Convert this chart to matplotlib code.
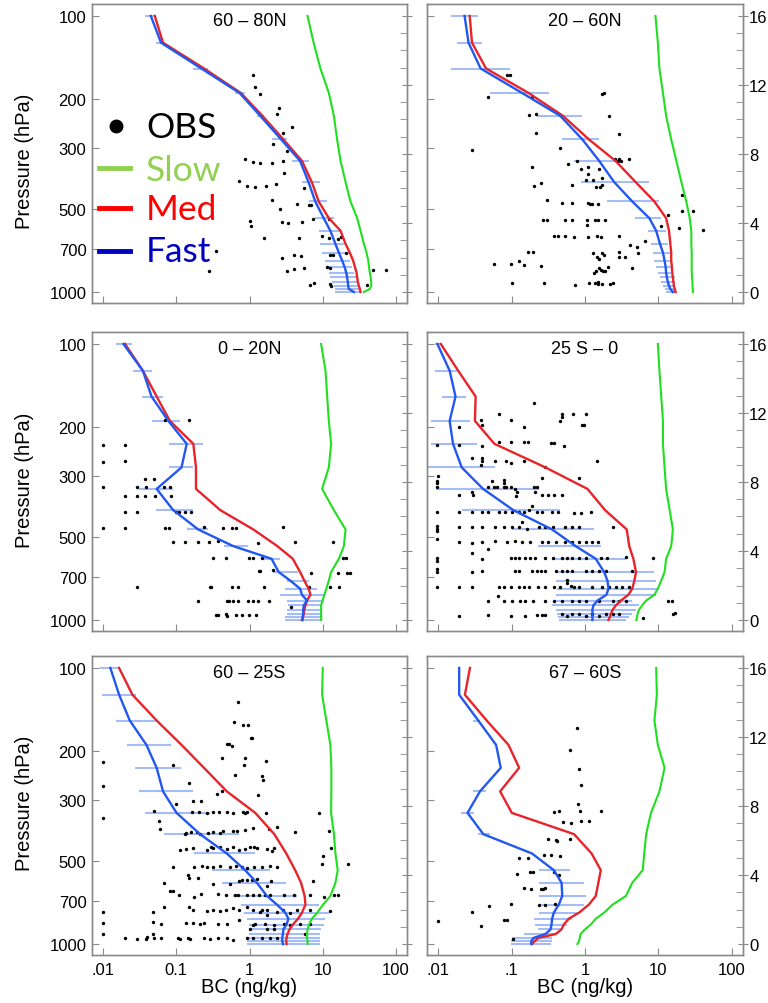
import numpy as np
import matplotlib
matplotlib.use('Agg')
import matplotlib.pyplot as plt
from matplotlib.lines import Line2D
from matplotlib.ticker import FixedLocator, NullLocator, NullFormatter, MultipleLocator

plt.rcParams['font.family'] = ['Liberation Sans', 'DejaVu Sans']

# model levels (hPa), top to bottom
lev_p = [100, 125, 155, 190, 230, 280, 335, 400, 470, 540, 600, 670, 720, 770, 810, 850, 885, 920, 950, 975, 1000]

# ---- 60 - 80N
fast_n6080 = [0.045, 0.062, 0.22, 0.73, 1.4, 2.7, 4.9, 6.4, 7.9, 10.3, 12.7, 14.9, 16.6, 18.4, 19.8, 20.9, 21.5, 22, 22.2, 22.7, 26.6]
lo_n6080 = [0.037, 0.053, 0.17, 0.64, 1.26, 2.0, 3.8, 5.2, 6.4, 7.9, 8.8, 9.3, 9.8, 10.9, 11.5, 12.1, 12.7, 13.4, 14.2, 14.9, 14.9]
hi_n6080 = [0.051, 0.066, 0.27, 0.87, 1.56, 3.2, 6.4, 9.3, 11.5, 14.2, 17.5, 19.4, 22.7, 23.9, 25.2, 26.6, 28, 29.5, 31, 31, 32.8]
med_n6080 = [0.051, 0.066, 0.24, 0.76, 1.5, 2.9, 5.2, 7.1, 8.8, 12.1, 17.5, 20.5, 23.4, 26, 27.4, 28.9, 29.5, 30.1, 31.1, 32.1, 32.8]
slow_n6080 = [6.2, 7.5, 9.3, 12.1, 14.2, 15.7, 17.5, 20.5, 23.9, 29.5, 32.8, 36.5, 39.6, 41.8, 42.7, 44, 45, 45.9, 45.9, 44, 36.5]
obs_n6080 = [(163, 1.1), (181, 1.2), (192, 1.4), (215, 2.5), (226, 2.4), (252, 3.8), (265, 2.9), (290, 2.1),
             (309, 3.2), (331, 0.87), (338, 1.1), (340, 1.4), (340, 2.0), (335, 2.9), (370, 3.0), (396, 0.71),
             (414, 0.92), (418, 1.2), (414, 1.7), (407, 2.3), (420, 5.6), (466, 2.0), (501, 2.6), (481, 4.4),
             (482, 6.4), (484, 6.9), (552, 1.0), (578, 1.05), (559, 2.8), (564, 3.4), (556, 5.2), (545, 7.4),
             (545, 12), (637, 1.6), (638, 4.8), (629, 9.8), (637, 12), (640, 16), (634, 18), (712, 0.35),
             (839, 0.28), (751, 2.8), (735, 4.1), (743, 5.0), (733, 12.5), (733, 14), (722, 21), (837, 3.2),
             (827, 4.0), (816, 5.6), (814, 11.5), (816, 12.7), (830, 49), (830, 72), (940, 6.6), (925, 7.7),
             (932, 12.5), (951, 13), (947, 40)]

# ---- 20 - 60N
fast_n2060 = [0.023, 0.026, 0.038, 0.139, 0.46, 0.92, 1.56, 2.5, 4.4, 7.5, 9.3, 10.5, 11.5, 12.1, 12.5, 12.7, 13, 13.4, 13.9, 14.5, 15.7]
lo_n2060 = [0.015, 0.018, 0.015, 0.051, 0.22, 0.49, 0.71, 0.87, 2.0, 4.8, 7.1, 7.9, 8.4, 8.6, 9.3, 9.8, 10.4, 10.9, 11.5, 12.1, 12.7]
hi_n2060 = [0.035, 0.040, 0.096, 0.32, 0.90, 1.56, 3.2, 7.5, 10.1, 10.9, 12.7, 13.4, 14.2, 14.9, 15.7, 16, 16.6, 16.6, 16.8, 17.1, 17.5]
med_n2060 = [0.027, 0.029, 0.045, 0.17, 0.50, 1.13, 2.6, 4.9, 8.8, 12.7, 13.9, 14.5, 14.9, 14.9, 15.2, 15.4, 15.7, 16.0, 16.2, 16.6, 17.1]
slow_n2060 = [9.1, 9.8, 10.3, 11.5, 12.7, 14.9, 17.5, 20.5, 23.9, 26.6, 28, 28, 28.3, 28.3, 28.3, 28.3, 28.6, 29, 29, 29.3, 29.5]
obs_n2060 = [(163, 0.086), (163, 0.096), (196, 0.048), (196, 0.19), (191, 1.7), (190, 1.8), (229, 0.175), (226, 0.215),
             (230, 2.1), (265, 0.215), (268, 2.9), (307, 0.029), (301, 0.46), (352, 0.19), (345, 0.59), (335, 0.79),
             (358, 0.89), (352, 1.1), (358, 1.56), (385, 1.7), (331, 2.6), (334, 2.8), (331, 2.9), (334, 3.1),
             (331, 4.0), (375, 1.1), (394, 1.04), (394, 1.3), (411, 0.67), (402, 0.255), (414, 0.205), (417, 1.43),
             (417, 1.6), (411, 1.7), (463, 0.3), (476, 0.49), (476, 0.66), (476, 1.1), (478, 1.17), (478, 1.26),
             (478, 1.5), (550, 0.27), (548, 0.3), (548, 0.54), (548, 0.67), (550, 1.08), (573, 1.05), (550, 1.37),
             (550, 1.48), (550, 1.9), (627, 0.38), (627, 0.43), (627, 0.54), (632, 0.71), (632, 1.1), (627, 1.45),
             (632, 1.66), (627, 2.86), (525, 13.4), (444, 21), (507, 21), (510, 29.5), (594, 40), (577, 10.9),
             (585, 19), (716, 0.166), (716, 0.194), (720, 1.29), (720, 1.73), (733, 1.82), (747, 1.46), (757, 1.56),
             (716, 2.86), (747, 2.9), (747, 3.5), (678, 4.1), (685, 5.1), (720, 5.3), (653, 6.6), (789, 0.058),
             (793, 0.099), (770, 0.127), (795, 0.148), (807, 0.25), (851, 1.33), (839, 1.4), (819, 1.56), (834, 1.64),
             (841, 1.77), (839, 1.9), (812, 2.05), (816, 4.4), (925, 0.1), (927, 0.28), (940, 0.72), (925, 1.13),
             (927, 1.37), (920, 1.48), (936, 1.52), (932, 1.73), (932, 2.2), (925, 2.4)]

# ---- 0 - 20N
fast_n0020 = [0.019, 0.035, 0.046, 0.078, 0.139, 0.118, 0.054, 0.091, 0.20, 0.60, 2.0, 2.5, 3.6, 4.9, 5.2, 6.1, 5.5, 5.4, 5.4, 5.3, 5.3]
lo_n0020 = [0.015, 0.026, 0.034, 0.047, 0.080, 0.080, 0.031, 0.053, 0.142, 0.45, 1.56, 2.1, 3.3, 3.1, 2.6, 3.2, 3.4, 3.2, 3.2, 3.1, 3.1]
hi_n0020 = [0.025, 0.047, 0.065, 0.112, 0.234, 0.167, 0.089, 0.171, 0.274, 0.94, 2.6, 4.6, 6.4, 8.4, 10.9, 10.3, 9.8, 9.8, 9.8, 9.8, 9.8]
med_n0020 = [0.020, 0.035, 0.054, 0.082, 0.171, 0.186, 0.186, 0.40, 1.13, 2.4, 3.9, 4.9, 5.6, 6.4, 6.8, 6.1, 5.8, 5.6, 5.5, 5.4, 5.2]
slow_n0020 = [9.5, 10.9, 11.5, 12.1, 13, 12.1, 9.8, 14.2, 20.5, 19.4, 16.6, 13, 12.1, 11.2, 10.5, 9.9, 9.5, 9.5, 9.5, 9.5, 9.5]
obs_n0020 = [(188, 0.07), (188, 0.15), (232, 0.01), (232, 0.02), (268, 0.01), (266, 0.02), (308, 0.038), (308, 0.049),
             (329, 0.01), (329, 0.029), (329, 0.039), (329, 0.068), (329, 0.082), (355, 0.02), (355, 0.029),
             (355, 0.038), (355, 0.051), (355, 0.086), (407, 0.02), (407, 0.029), (407, 0.098), (407, 0.11),
             (407, 0.13), (407, 0.16), (464, 0.01), (464, 0.02), (464, 0.07), (464, 0.079), (462, 0.24), (464, 0.43),
             (464, 0.57), (464, 0.65), (462, 2.9), (523, 0.089), (523, 0.13), (523, 0.2), (523, 0.28), (519, 0.37),
             (526, 1.3), (523, 4.2), (523, 14), (598, 0.32), (598, 0.48), (598, 0.97), (598, 1.13), (598, 1.48),
             (596, 19), (596, 21), (666, 1.33), (666, 1.4), (659, 2.1), (676, 6.9), (676, 16), (676, 21.5),
             (676, 23.4), (757, 0.029), (757, 0.29), (757, 0.3), (757, 0.58), (757, 0.69), (757, 1.6), (761, 6.4),
             (757, 12.7), (761, 16.6), (851, 0.2), (851, 0.49), (851, 0.52), (851, 0.6), (851, 0.69), (851, 0.95),
             (851, 1.1), (851, 1.3), (851, 1.84), (900, 3.7), (959, 0.35), (959, 0.37), (952, 0.48), (964, 0.5),
             (959, 0.66), (959, 0.8), (959, 0.97), (959, 1.22)]

# ---- 25S - 0
fast_s2500 = [0.0098, 0.0144, 0.0173, 0.0144, 0.016, 0.021, 0.041, 0.106, 0.357, 0.745, 1.4, 1.82, 2.02, 2.09, 1.96, 1.48, 1.3, 1.26, 1.26, 1.26, 1.26]
lo_s2500 = [0.0092, 0.009, 0.0115, 0.0079, 0.0081, 0.0069, 0.0095, 0.0209, 0.101, 0.23, 0.357, 0.39, 0.40, 0.42, 0.40, 0.38, 0.36, 0.40, 0.42, 0.43, 0.44]
hi_s2500 = [0.0105, 0.0184, 0.0244, 0.027, 0.0335, 0.060, 0.234, 0.46, 1.33, 1.64, 3.6, 8.8, 9.3, 10.3, 9.3, 4.4, 5.5, 4.94, 4.4, 4.0, 3.6]
med_s2500 = [0.0109, 0.0188, 0.0325, 0.0318, 0.0585, 0.289, 1.08, 1.88, 3.7, 4.0, 4.55, 4.94, 4.7, 4.4, 3.9, 3.08, 2.63, 2.37, 2.25, 2.18, 2.09]
slow_s2500 = [9.8, 10.3, 10.9, 11.5, 11.5, 12.1, 12.7, 14.2, 15.7, 14.9, 12.7, 12.1, 10.9, 9.8, 8.8, 6.8, 6.0, 5.4, 5.2, 5.1, 5.0]
obs_s2500 = [(164, 0.20), (179, 0.068), (179, 0.49), (179, 0.685), (179, 1.04), (184, 0.48), (190, 0.45),
             (188, 0.039), (188, 0.099), (196, 0.040), (200, 0.019), (200, 0.146), (196, 0.92), (197, 0.97),
             (227, 0.068), (227, 0.099), (227, 0.146), (226, 0.168), (229, 0.34), (229, 0.376), (232, 0.0098),
             (232, 0.0194), (234, 0.0392), (234, 0.51), (259, 0.0292), (259, 0.0392), (266, 0.0392), (266, 0.0597),
             (265, 0.0836), (270, 0.099), (265, 0.146), (280, 0.289), (265, 1.45), (275, 0.039), (300, 0.01),
             (306, 0.26), (306, 0.83), (313, 0.0098), (320, 0.0098), (313, 0.055), (310, 0.080), (318, 0.078),
             (336, 0.112), (345, 0.119), (355, 0.115), (329, 0.0098), (329, 0.0484), (329, 0.057), (329, 0.063),
             (329, 0.078), (329, 0.0836), (329, 0.099), (329, 0.20), (329, 0.222), (352, 0.0194), (343, 0.0292),
             (352, 0.030), (343, 0.206), (352, 0.26), (352, 0.313), (352, 0.376), (352, 0.49),
             (405, 0.0098), (405, 0.0194), (405, 0.0292), (405, 0.0392), (405, 0.0484), (405, 0.0678), (405, 0.081),
             (405, 0.101), (405, 0.125), (405, 0.146), (405, 0.222), (405, 0.26), (405, 0.357), (405, 0.43),
             (408, 0.71), (408, 0.89), (405, 1.2), (399, 0.171), (387, 0.19), (440, 0.138),
             (455, 0.0098), (470, 0.0098), (477, 0.0098), (462, 0.0194), (462, 0.0292), (462, 0.0392), (462, 0.0597),
             (462, 0.080), (462, 0.101), (462, 0.125), (468, 0.16), (462, 0.234), (462, 0.289), (462, 0.365),
             (462, 0.54), (462, 0.67), (462, 0.83), (460, 2.37), (509, 0.0098),
             (523, 0.0194), (527, 0.0292), (523, 0.0392), (519, 0.0597), (523, 0.0875), (517, 0.112), (523, 0.14),
             (523, 0.178), (523, 0.26), (523, 0.313), (523, 0.40), (523, 0.54), (523, 0.67), (523, 0.83),
             (523, 1.02), (523, 1.26), (523, 1.52), (553, 0.048), (573, 0.029),
             (596, 0.0098), (610, 0.0098), (600, 0.0392), (596, 0.099), (596, 0.112), (596, 0.128), (596, 0.154),
             (596, 0.18), (596, 0.211), (596, 0.289), (596, 0.365), (596, 0.49), (596, 0.575), (596, 0.67),
             (596, 0.83), (596, 1.02), (596, 1.64), (596, 2.02), (590, 3.6), (596, 8.4),
             (652, 0.0098), (672, 0.0098), (672, 0.0292), (666, 0.0392), (666, 0.112), (666, 0.128), (666, 0.19),
             (666, 0.222), (666, 0.255), (666, 0.289), (666, 0.40), (666, 0.49), (666, 0.575), (666, 0.67),
             (666, 1.02), (666, 1.26), (666, 1.56), (666, 1.92), (666, 4.4),
             (757, 0.0098), (757, 0.0194), (757, 0.0292), (757, 0.0678), (757, 0.080), (757, 0.099), (757, 0.125),
             (757, 0.146), (757, 0.171), (757, 0.229), (757, 0.289), (757, 0.376), (757, 0.46), (750, 0.64),
             (761, 0.71), (761, 0.83), (757, 1.26), (757, 1.73), (757, 2.13), (757, 2.63), (757, 3.2), (757, 4.0),
             (736, 0.575), (715, 0.575),
             (816, 0.066), (851, 0.048), (851, 0.080), (851, 0.101), (851, 0.131), (851, 0.154), (851, 0.196),
             (851, 0.289), (851, 0.376), (851, 0.49), (851, 0.67), (851, 0.83), (851, 1.02), (851, 1.56),
             (851, 2.37), (851, 2.9), (851, 3.6), (851, 13.4), (851, 15.4),
             (965, 0.0194), (960, 0.0484), (965, 0.099), (965, 0.154), (957, 0.222), (957, 0.26), (957, 0.289),
             (952, 0.49), (965, 0.575), (952, 0.67), (952, 0.83), (965, 1.02), (952, 1.26), (965, 1.56),
             (952, 1.92), (952, 2.37), (952, 2.9), (980, 6.1), (950, 15.7), (940, 16.6)]

# ---- 60 - 25S
fast_s6025 = [0.0126, 0.0166, 0.0232, 0.0392, 0.054, 0.066, 0.101, 0.211, 0.49, 0.87, 1.26, 1.73, 2.37, 3.08, 3.4, 3.2, 2.9, 2.86, 2.8, 2.8, 2.86]
lo_s6025 = [0.009, 0.0098, 0.0149, 0.0215, 0.027, 0.031, 0.037, 0.069, 0.177, 0.305, 0.42, 0.60, 0.76, 0.85, 0.92, 0.97, 0.97, 0.97, 0.94, 0.92, 0.92]
hi_s6025 = [0.0169, 0.028, 0.054, 0.085, 0.116, 0.167, 0.289, 0.71, 1.2, 1.88, 3.18, 4.45, 8.8, 12.1, 10.9, 10.3, 9.5, 9.3, 9.3, 9.1, 9.3]
med_s6025 = [0.0166, 0.0252, 0.054, 0.118, 0.239, 0.49, 1.2, 2.18, 3.18, 4.2, 5.05, 5.66, 5.8, 5.2, 4.6, 3.9, 3.53, 3.3, 3.2, 3.18, 3.2]
slow_s6025 = [10.0, 9.8, 11.2, 12.7, 13.1, 13.1, 13, 14.2, 14.9, 16, 14.9, 12.7, 10.1, 8.4, 7.1, 6.5, 6.2, 6.1, 6.1, 6.2, 6.2]
obs_s6025 = [(133, 0.69), (157, 0.62), (161, 0.81), (161, 0.95), (179, 1.05), (180, 1.08), (188, 0.49), (188, 0.53),
             (191, 0.57), (212, 0.42), (212, 0.87), (224, 0.83), (218, 1.7), (219, 0.01), (225, 0.089), (247, 1.48),
             (255, 1.52), (245, 0.63), (261, 0.15), (285, 0.36), (280, 0.42), (288, 1.3), (268, 0.01), (349, 0.01),
             (304, 0.171), (304, 0.218), (310, 0.098), (330, 0.0494),
             (332, 0.162), (332, 0.206), (335, 0.26), (332, 0.32), (332, 0.386), (332, 0.49), (335, 0.60),
             (332, 0.81), (334, 0.87), (332, 0.92), (335, 1.68), (334, 8.8), (359, 0.058), (384, 0.06),
             (400, 0.131), (396, 0.138), (394, 0.159), (394, 0.19), (399, 0.211), (396, 0.274), (394, 0.32),
             (396, 0.396), (390, 0.44), (390, 0.60), (390, 0.68), (386, 0.87), (381, 1.1), (384, 1.82), (378, 2.37),
             (392, 4.2), (390, 12.1),
             (455, 0.112), (452, 0.138), (450, 0.167), (455, 0.26), (445, 0.295), (450, 0.32), (445, 0.396),
             (452, 0.49), (445, 0.60), (455, 0.71), (452, 0.87), (445, 1.02), (445, 1.17), (450, 1.26), (452, 1.73),
             (460, 2.02), (450, 2.18), (450, 13), (480, 10.1),
             (524, 0.089), (524, 0.177), (520, 0.222), (527, 0.26), (527, 0.32), (520, 0.396), (524, 0.54),
             (520, 0.66), (524, 0.79), (529, 0.92), (527, 1.16), (524, 1.48), (520, 1.88), (524, 2.37), (512, 9.8),
             (515, 22),
             (600, 0.0685), (564, 0.146), (577, 0.15), (577, 0.2), (605, 0.32), (605, 0.54), (590, 0.71), (585, 0.79),
             (587, 0.92), (587, 1.08), (580, 1.26), (592, 1.96), (590, 7.3), (615, 1.73),
             (644, 0.0819), (644, 0.089), (663, 0.11), (676, 0.177), (658, 0.216), (658, 0.375), (667, 0.48),
             (663, 0.64), (667, 0.69), (667, 0.92), (667, 1.13), (667, 1.33), (667, 1.64), (667, 1.88), (667, 2.92),
             (667, 4.0), (667, 6.8), (676, 10.5), (667, 14.2), (667, 16),
             (734, 0.0685), (734, 0.15), (750, 0.167), (758, 0.26), (754, 0.32), (758, 0.396), (750, 0.48),
             (740, 0.60), (754, 0.73), (734, 0.92), (754, 1.13), (754, 1.48), (750, 1.73), (754, 2.86), (754, 4.45),
             (754, 6.8), (758, 12.7),
             (766, 0.0484), (766, 1.4), (768, 2.37), (772, 3.6), (788, 1.73), (766, 0.01), (838, 0.01),
             (830, 0.0484), (846, 0.061), (842, 0.138), (838, 0.171), (848, 0.211), (842, 0.239), (844, 0.375),
             (848, 0.49), (820, 0.71), (852, 1.1), (848, 1.2), (848, 1.64), (852, 2.13), (848, 2.92), (852, 3.6),
             (848, 4.94), (848, 6.8), (881, 1.02), (881, 1.73), (881, 2.13), (918, 0.01), (918, 0.0484), (918, 5.8),
             (951, 0.0198), (960, 0.0292), (960, 0.0392), (946, 0.04), (950, 0.0494), (951, 0.061), (951, 0.106),
             (960, 0.112), (951, 0.146), (962, 0.154), (950, 0.239), (960, 0.289), (951, 0.375), (955, 0.49),
             (965, 0.60), (951, 0.92), (951, 1.13), (951, 1.48), (951, 1.88), (951, 2.37)]

# ---- 67 - 60S
fast_s6760 = [0.0194, 0.0194, 0.0353, 0.0617, 0.0714, 0.0372, 0.0252, 0.0413, 0.19, 0.376, 0.48, 0.49, 0.44, 0.376, 0.357, 0.35, 0.34, 0.289, 0.2, 0.186, 0.186]
lo_s6760 = [0.0194, 0.0194, 0.030, 0.0617, 0.0714, 0.030, 0.0205, 0.0353, 0.19, 0.234, 0.234, 0.234, 0.24, 0.234, 0.20, 0.21, 0.229, 0.146, 0.101, 0.099, 0.099]
hi_s6760 = [0.0194, 0.0194, 0.0372, 0.0617, 0.0714, 0.0445, 0.031, 0.051, 0.19, 0.62, 0.97, 1.02, 0.97, 0.79, 0.67, 0.575, 0.49, 0.376, 0.357, 0.357, 0.34]
med_s6760 = [0.0272, 0.0232, 0.0459, 0.091, 0.127, 0.07, 0.101, 0.71, 1.23, 1.64, 1.52, 1.4, 1.13, 0.83, 0.60, 0.515, 0.48, 0.40, 0.234, 0.207, 0.19]
slow_s6760 = [9.3, 9.5, 8.8, 9.8, 12.1, 10.3, 7.9, 6.8, 6.4, 6.1, 4.4, 3.6, 2.37, 1.82, 1.4, 1.2, 1.0, 0.87, 0.85, 0.83, 0.79]
obs_s6760 = [(165, 0.79), (199, 0.62), (232, 0.83), (266, 0.89), (310, 0.8), (330, 0.85), (330, 1.64), (332, 0.38),
             (331, 0.44), (361, 0.5), (363, 0.64), (359, 0.87), (359, 1.13), (415, 0.315), (419, 0.4), (425, 0.42),
             (415, 0.62), (477, 0.28), (477, 0.35), (481, 0.45), (488, 0.127), (487, 0.167), (556, 0.118),
             (548, 0.18), (548, 0.196), (548, 0.38), (561, 0.44), (627, 0.15), (634, 0.186), (630, 0.255),
             (634, 0.27), (627, 0.29), (714, 0.099), (728, 0.049), (720, 0.234), (720, 0.29), (714, 0.39),
             (766, 0.029), (821, 0.08), (817, 0.088), (863, 0.039), (828, 0.01), (957, 0.106)]

titles = ['60 – 80N', '20 – 60N', '0 – 20N', '25 S – 0', '60 – 25S', '67 – 60S']
xticks = [0.01, 0.1, 1, 10, 100]
xlabels_left = ['.01', '0.1', '1', '10', '100']
xlabels_right = ['.01', '.1', '1', '10', '100']
pticks = [100, 200, 300, 500, 700, 1000]
zticks = [0, 4, 8, 12, 16]

panels = [
    (obs_n6080, fast_n6080, lo_n6080, hi_n6080, med_n6080, slow_n6080),
    (obs_n2060, fast_n2060, lo_n2060, hi_n2060, med_n2060, slow_n2060),
    (obs_n0020, fast_n0020, lo_n0020, hi_n0020, med_n0020, slow_n0020),
    (obs_s2500, fast_s2500, lo_s2500, hi_s2500, med_s2500, slow_s2500),
    (obs_s6025, fast_s6025, lo_s6025, hi_s6025, med_s6025, slow_s6025),
    (obs_s6760, fast_s6760, lo_s6760, hi_s6760, med_s6760, slow_s6760),
]

W, H = 768, 1004
fig = plt.figure(figsize=(W / 100, H / 100), dpi=100)

col_x = [92, 427]
col_w = [315, 316]
row_top = [5, 333, 657]
ax_h = 299
ylab_y = [161, 480, 803]
p_bot, p_top = 1096, 90.5
frame = '#8a8a8a'

for i, (obs, fast, lo, hi, med, slow) in enumerate(panels):
    r, c = divmod(i, 2)
    ax = fig.add_axes([col_x[c] / W, 1 - (row_top[r] + ax_h) / H, col_w[c] / W, ax_h / H])
    ax.set_xscale('log')
    ax.set_yscale('log')
    ax.set_xlim(10 ** -2.15, 10 ** 2.15)
    ax.set_ylim(p_bot, p_top)

    ax.hlines(lev_p, lo, hi, color='#86a6f8', lw=1.5, alpha=0.75, zorder=1)
    op, ob = zip(*obs)
    ax.scatter(ob, op, s=6, c='k', linewidths=0, zorder=2)
    ax.plot(slow, lev_p, color='#1fe01f', lw=1.5, zorder=3)
    ax.plot(med, lev_p, color='#e8242a', lw=1.7, zorder=3)
    ax.plot(fast, lev_p, color='#2258f0', lw=1.7, zorder=4)

    ax.text(0.5, 0.973, titles[i], transform=ax.transAxes, ha='center', va='top', fontsize=13)

    ax.xaxis.set_major_locator(FixedLocator(xticks))
    ax.xaxis.set_minor_locator(NullLocator())
    ax.xaxis.set_minor_formatter(NullFormatter())
    ax.set_xticklabels(xlabels_left if c == 0 else xlabels_right)
    ax.yaxis.set_major_locator(FixedLocator(pticks))
    ax.yaxis.set_minor_locator(NullLocator())
    ax.yaxis.set_minor_formatter(NullFormatter())
    ax.set_yticklabels([str(p) for p in pticks])
    ax.tick_params(axis='both', direction='in', length=5, color=frame, labelsize=12, pad=4)
    ax.tick_params(axis='x', labelbottom=(r == 2), pad=5)
    ax.tick_params(axis='y', labelleft=(c == 0), right=False)

    tw = ax.twinx()
    tw.set_ylim(16 * (3 - np.log10(p_bot)), 16 * (3 - np.log10(p_top)))
    tw.yaxis.set_major_locator(FixedLocator(zticks))
    tw.yaxis.set_minor_locator(MultipleLocator(1))
    tw.tick_params(axis='y', which='major', direction='inout', length=7, color=frame,
                   labelsize=12, pad=1, labelright=(c == 1))
    tw.tick_params(axis='y', which='minor', direction='in', length=5, color=frame)

    for a in (ax, tw):
        for s in a.spines.values():
            s.set_color(frame)
            s.set_linewidth(1.0)

    if c == 0:
        fig.text(25 / W, 1 - ylab_y[r] / H, 'Pressure (hPa)', rotation=90,
                 ha='center', va='center', fontsize=14.5)
    if r == 2:
        fig.text((col_x[c] + col_w[c] / 2) / W, 1 - 988 / H, 'BC (ng/kg)',
                 ha='center', va='center', fontsize=14.5)

# legend drawn over the first panel
leg_font = ['Lato', 'DejaVu Sans']
fig.add_artist(Line2D([115.7 / W], [1 - 127 / H], marker='o', ms=9, color='k', ls='none'))
fig.text(146 / W, 1 - 138 / H, 'OBS', color='k', fontsize=25.5, family=leg_font, va='baseline')
leg_items = [('Slow', '#92d050', 169, 181), ('Med', '#ff0000', 209, 220), ('Fast', '#0000c0', 252, 262)]
for name, col, ly, by in leg_items:
    fig.add_artist(Line2D([99 / W, 130 / W], [1 - ly / H] * 2, color=col, lw=3.5))
    fig.text(146 / W, 1 - by / H, name, color=col, fontsize=25.5, family=leg_font, va='baseline')

fig.savefig('out.png', dpi=100)
